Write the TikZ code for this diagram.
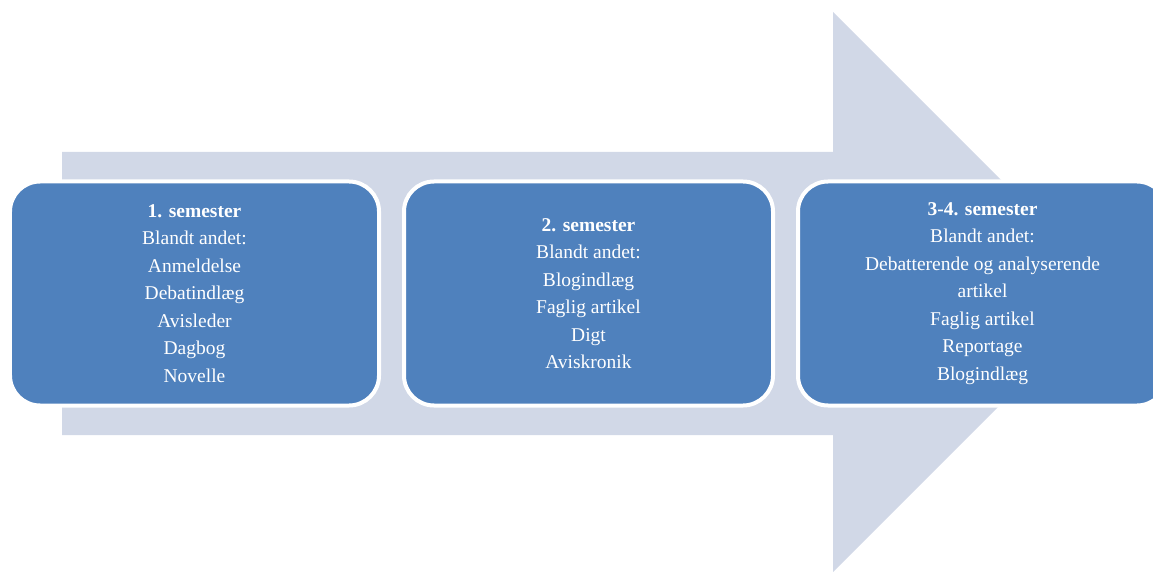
\documentclass[tikz,border=0pt]{standalone}
\usepackage{fontspec}
\setmainfont{Liberation Serif}
\usetikzlibrary{positioning}
\definecolor{pilgraa}{HTML}{D1D8E7}
\definecolor{boksblaa}{HTML}{4F81BD}
\tikzset{semboks/.style={rounded corners=30bp, fill=boksblaa, draw=white, line width=4bp,
  minimum width=369bp, minimum height=224bp, text=white, align=center,
  font=\fontsize{19.5bp}{27.5bp}\selectfont}}

\begin{document}
\begin{tikzpicture}[x = 1bp, y = -1bp]
\useasboundingbox (0,0) rectangle (1153,572);
% big arrow
\fill[pilgraa] (62,152) -- (833,152) -- (833,12) -- (1113,292) -- (833,572) -- (833,435) -- (62,435) -- cycle;

\node[semboks] (sem1) at (194.5, 293.5) {\textbf{1. semester}\\Blandt andet:\\Anmeldelse\\Debatindlæg\\Avisleder\\Dagbog\\Novelle};
\node[semboks] (sem2) at (588.5, 293.5) {\textbf{2. semester}\\Blandt andet:\\Blogindlæg\\Faglig artikel\\Digt\\Aviskronik};
\node[semboks] (sem3) at (982.5, 293.5) {\textbf{3-4. semester}\\Blandt andet:\\Debatterende og analyserende\\artikel\\Faglig artikel\\Reportage\\Blogindlæg};

\end{tikzpicture}
\end{document}
